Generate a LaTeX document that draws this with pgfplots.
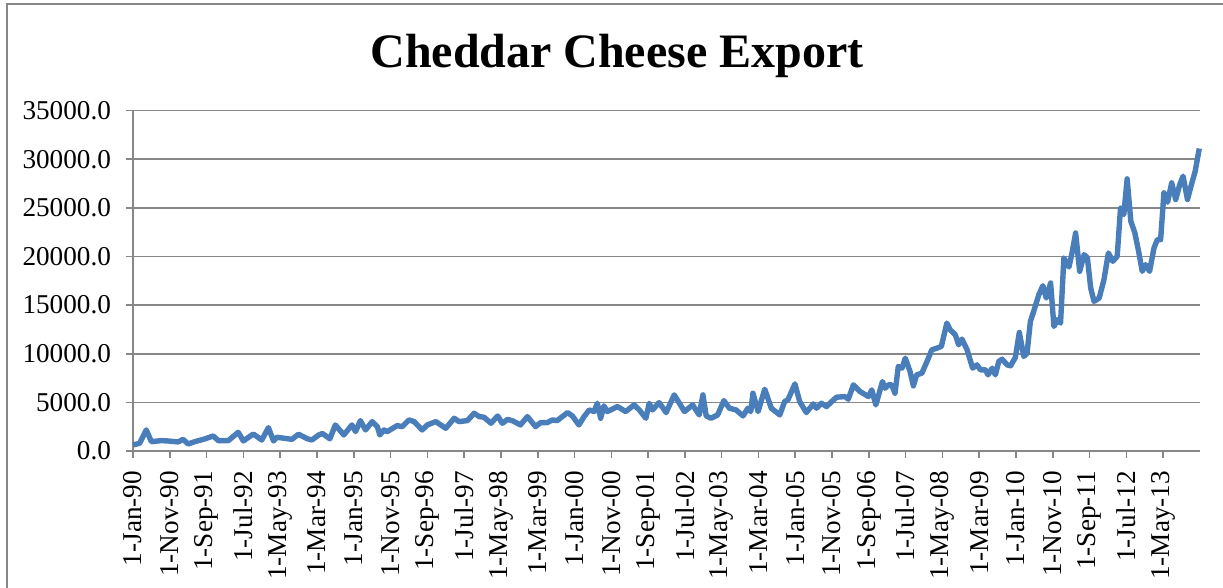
\documentclass[border=0pt]{standalone}
\usepackage{fontspec}
\setmainfont{Liberation Serif}
\usepackage{pgfplots}
\pgfplotsset{compat=1.18}
\definecolor{xlblue}{HTML}{4A7EBB}
\definecolor{xlgrid}{HTML}{878787}
\begin{document}
\begin{tikzpicture}
\path[use as bounding box] (-66.5pt,-68.5pt) rectangle (545pt,225.5pt);
\draw[xlgrid, line width=0.8pt] (-63pt,-70pt) -- (-63pt,223.5pt) -- (550pt,223.5pt);
\node[anchor=base, font=\fontsize{24}{28}\selectfont\bfseries] at (242pt,191.5pt) {Cheddar Cheese Export};
\begin{axis}[
  scale only axis, width=533.5pt, height=170.2pt,
  at={(0pt,0pt)}, anchor=origin,
  xmin=0, xmax=290, ymin=0, ymax=35000,
  axis lines*=left,
  axis line style={xlgrid, line width=0.8pt},
  ymajorgrids, grid style={xlgrid, line width=0.8pt},
  ytick={0,5000,...,35000},
  xtick={0,10,...,280},
  xticklabels={1-Jan-90,1-Nov-90,1-Sep-91,1-Jul-92,1-May-93,1-Mar-94,1-Jan-95,1-Nov-95,1-Sep-96,1-Jul-97,1-May-98,1-Mar-99,1-Jan-00,1-Nov-00,1-Sep-01,1-Jul-02,1-May-03,1-Mar-04,1-Jan-05,1-Nov-05,1-Sep-06,1-Jul-07,1-May-08,1-Mar-09,1-Jan-10,1-Nov-10,1-Sep-11,1-Jul-12,1-May-13},
  tick align=outside, major tick length=3.5pt,
  tick style={xlgrid, line width=0.8pt},
  scaled y ticks=false,
  tick label style={font=\fontsize{13.6}{16}\selectfont},
  y tick label style={xshift=-4pt},
  yticklabel style={/pgf/number format/.cd, fixed, fixed zerofill, precision=1, 1000 sep={}, assume math mode=true},
  x tick label style={yshift=-3pt, rotate=90, anchor=east},
  clip=false,
]
\addplot[xlblue, line width=2.7pt, line join=round] coordinates {
(0,620)(1.8,790)(3.6,2164)(5,960)(7.7,1065)(9.5,1030)(12.3,930)(13.6,1200)(15,720)(16.8,960)
(19.5,1240)(21.8,1545)(23.2,1065)(25.9,1065)(28.6,1920)(30,1030)(32.7,1750)(35,1130)(36.8,2400)(38.2,1030)
(39.1,1410)(43.2,1200)(45,1720)(47.3,1270)(48.6,1130)(50.5,1650)(51.5,1800)(53.5,1250)
(55,2680)(57.3,1650)(59.5,2680)(60.5,2000)(61.8,3125)(63.2,2164)(65,3022)(66.4,2507)(67.1,1650)(68.2,2164)
(69.1,1992)(71.8,2610)(73.2,2507)(75,3193)(76.4,3022)(78.6,2164)(80,2678)(82.3,3022)(85,2335)(87.3,3365)
(88.6,3022)(90.9,3125)(92.7,3880)(94.1,3537)(95.4,3470)(97.3,2850)(99.1,3600)(100.4,2850)(101.8,3250)(103.2,3100)
(105.3,2680)(107.2,3537)(109.4,2507)(110.8,2919)(112.6,2919)(114,3194)(115.3,3125)(118.1,3949)(119.4,3606)(121.2,2680)
(122.6,3537)(124,4223)(125.3,4052)(126.2,4910)(127.1,3365)(128,4635)(128.9,4052)(131.7,4567)(133.9,4052)(136.2,4738)
(137.6,4223)(139.4,3365)(140.3,4910)(141.2,4223)(143,4979)(144.9,3949)(147.1,5768)(149.9,4052)(152.1,4738)(153.9,3709)
(154.9,5768)(155.8,3600)(157.1,3365)
(158.9,3709)(160.6,5185)(162.1,4395)(163.9,4223)(165.8,3606)(167.1,4395)(167.9,4052)(168.5,5940)(169.9,4052)(171.7,6352)
(173.5,4395)(175.8,3709)(177.1,5082)(178,5254)(179.9,6901)(181.2,5082)(183,3949)(184.9,4841)(185.8,4395)(187.1,4910)
(188.5,4567)(189.9,5082)(191.2,5528)(193.5,5597)(194.4,5322)(195.8,6798)(197.6,6112)(199.9,5597)(200.8,6283)(201.9,4738)
(203.7,7142)(204.4,6455)(205.3,6798)(206.2,6798)(207.1,5940)(208,8686)(209,8515)
(209.9,9545)(211.2,8172)(212.1,6696)(213,7829)(214.4,8000)(215.8,9202)(217.1,10404)(218.5,10575)(219.7,10747)(221.2,13150)
(222.1,12463)(223.5,11948)(224.4,10919)(225.3,11502)(226.7,10404)(228.2,8515)(229.4,8858)(230.3,8344)(231.7,8344)(232.4,7829)
(233.5,8515)(234.4,7829)(235.3,9202)(236.2,9442)(237.6,8858)(238.5,8756)(239.8,9600)(240.9,12190)(242.1,9720)(243,10060)
(243.9,13323)(244.8,14353)(246.2,16070)(247.3,16996)(248.2,15727)(249.4,17272)(250.3,12808)(251.2,13495)(252.1,13150)(253,19846)
(254.4,18919)(255.3,20532)(256.2,22420)(257.3,18473)(258.5,20189)(259.4,19846)(260.3,16756)(261.2,15383)(262.6,15727)(263.9,17615)
(265.1,20360)(266.3,19500)(267.5,20018)(268.4,24995)(269.3,24309)(270.2,27982)(271.2,23623)(272.3,22421)(273.4,20361)(274.3,18473)
(275.2,19160)(276.3,18473)(277.5,20876)(278.4,21734)(279.3,21734)(280.2,26540)(281.2,25579)(282.3,27570)(283.4,25854)(284.5,27399)
(285.4,28257)(286.6,25854)(287.8,27570)(288.7,28772)(289.8,31100)
};
\end{axis}
\end{tikzpicture}
\end{document}
